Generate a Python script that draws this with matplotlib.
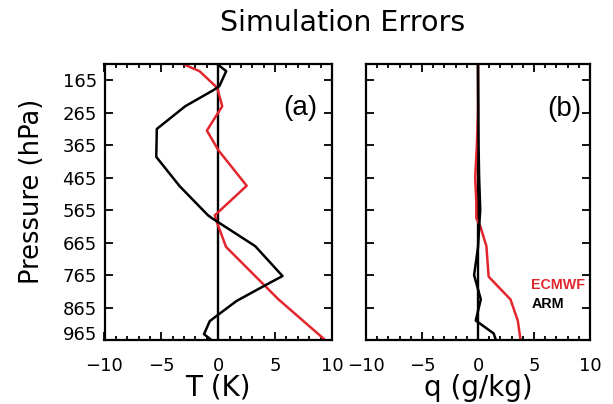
import matplotlib
matplotlib.use("Agg")
import matplotlib.pyplot as plt
import matplotlib.transforms as mtransforms
from matplotlib.ticker import MultipleLocator, FixedLocator

# ---- data ----
# Panel (a): temperature errors (K)
arm_T_p   = [115, 137, 183, 196, 245, 315, 401, 491, 581, 591, 676, 768, 799, 845, 891, 907, 947, 965]
arm_T     = [-0.1, 0.7, 0.1, -0.45, -2.9, -5.4, -5.45, -3.4, -0.9, -0.5, 3.25, 5.65, 4.0, 1.6, -0.15, -0.75, -1.25, -0.6]
ecm_T_p   = [115, 137, 188, 245, 320, 380, 490, 581, 604, 678, 840, 965]
ecm_T     = [-3.1, -1.65, -0.1, 0.35, -1.0, 0.0, 2.5, -0.3, -0.1, 0.68, 5.3, 9.4]

# Panel (b): moisture errors (g/kg)
arm_q_p   = [115, 365, 465, 565, 590, 680, 765, 840, 905, 945, 965]
arm_q     = [0.0, 0.05, 0.1, 0.2, 0.15, 0.0, -0.35, 0.25, -0.2, 1.4, 1.6]
ecm_q_p   = [115, 265, 365, 465, 540, 590, 614, 676, 770, 840, 905, 965]
ecm_q     = [0.0, 0.0, -0.1, -0.25, -0.15, -0.15, 0.2, 0.75, 0.95, 2.9, 3.55, 3.8]

p_ticks = [165, 265, 365, 465, 565, 665, 765, 865, 965]
x_ticks = [-10, -5, 0, 5, 10]

title = "Simulation Errors"
xlabels = ["T (K)", "q (g/kg)"]
ylabel = "Pressure (hPa)"
panel_tags = ["(a)", "(b)"]
legend_names = ["ECMWF", "ARM"]

RED = "#e2262d"
BLACK = "black"

plt.rcParams['font.family'] = ['DejaVu Sans']

fig = plt.figure(figsize=(6.13, 4.04), dpi=100)
W, H = 613, 404
def rect(x0, x1, y0, y1):
    return [x0 / W, 1 - y1 / H, (x1 - x0) / W, (y1 - y0) / H]

axa = fig.add_axes(rect(104.5, 332, 64, 340))
axb = fig.add_axes(rect(366, 590, 64, 340))

for ax in (axa, axb):
    ax.set_xlim(-10, 10)
    ax.set_ylim(965, 115)
    ax.axvline(0, color=BLACK, lw=1.7, zorder=1)
    ax.yaxis.set_major_locator(FixedLocator(p_ticks))
    ax.xaxis.set_major_locator(FixedLocator(x_ticks))
    ax.xaxis.set_minor_locator(MultipleLocator(1))
    ax.tick_params(which='both', direction='in', top=True, right=True, width=1.3)
    ax.tick_params(which='major', length=5.5)
    ax.tick_params(which='minor', length=2.8)
    ax.tick_params(axis='x', which='major', pad=12.5, labelsize=13)
    ax.tick_params(axis='y', which='major', pad=5.5, labelsize=13)
    for s in ax.spines.values():
        s.set_linewidth(1.6)

axa.plot(arm_T, arm_T_p, color=BLACK, lw=1.8, zorder=3)
axa.plot(ecm_T, ecm_T_p, color=RED, lw=1.8, zorder=2)
axb.plot(arm_q, arm_q_p, color=BLACK, lw=1.8, zorder=3)
axb.plot(ecm_q, ecm_q_p, color=RED, lw=1.8, zorder=2)

axb.tick_params(axis='y', labelleft=False)

# nudge the bottom pressure label up like the reference
fig.canvas.draw()
lbl = axa.yaxis.get_majorticklabels()[-1]
lbl.set_transform(lbl.get_transform() + mtransforms.ScaledTranslation(0, 5 / 72, fig.dpi_scale_trans))

axa.set_xlabel(xlabels[0], fontsize=20, labelpad=-1)
axb.set_xlabel(xlabels[1], fontsize=20, labelpad=-1)
axa.set_ylabel(ylabel, fontsize=18.5)
axa.yaxis.set_label_coords(-0.262, 0.538)

axa.text(0.86, 0.842, panel_tags[0], transform=axa.transAxes, ha='center', va='center',
         fontsize=20, family='Liberation Sans')
axb.text(0.886, 0.837, panel_tags[1], transform=axb.transAxes, ha='center', va='center',
         fontsize=20, family='Liberation Sans')

axb.text(0.738, 0.199, legend_names[0], transform=axb.transAxes, ha='left', va='center',
         fontsize=10.3, family='Liberation Sans', fontweight='bold', color=RED)
axb.text(0.738, 0.129, legend_names[1], transform=axb.transAxes, ha='left', va='center',
         fontsize=10.3, family='Liberation Sans', fontweight='bold', color=BLACK)

fig.text(343 / W, 1 - 23 / H, title, ha='center', va='center', fontsize=20.5)

fig.savefig("out.png", dpi=100)
